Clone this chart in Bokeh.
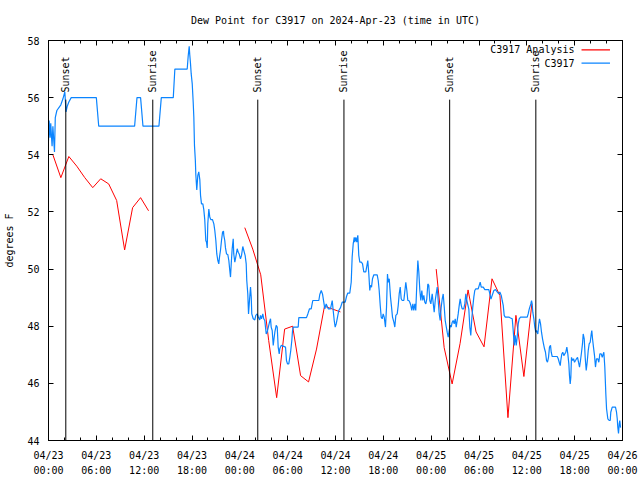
import math
from bokeh.plotting import figure
from bokeh.models import Range1d, LinearAxis, FixedTicker, Label
from bokeh.core.properties import value
from bokeh.embed import file_html
from bokeh.resources import INLINE

FONT = "DejaVu Sans Mono"
NAN = float("nan")

title_text = "Dew Point for C3917 on 2024-Apr-23 (time in UTC)"
y_label = "degrees F"

# hours since 2024-04-23 00:00 UTC
x_tick_hours = [0, 6, 12, 18, 24, 30, 36, 42, 48, 54, 60, 66, 72]
x_tick_labels = ["04/23\n00:00", "04/23\n06:00", "04/23\n12:00", "04/23\n18:00",
                 "04/24\n00:00", "04/24\n06:00", "04/24\n12:00", "04/24\n18:00",
                 "04/25\n00:00", "04/25\n06:00", "04/25\n12:00", "04/25\n18:00",
                 "04/26\n00:00"]
x_minor_hours = list(range(0, 73, 2))
y_ticks = [44, 46, 48, 50, 52, 54, 56, 58]

sun_hours = [2.17, 13.08, 26.25, 37.06, 50.32, 61.13]
sun_labels = ["Sunset", "Sunrise", "Sunset", "Sunrise", "Sunset", "Sunrise"]

legend_names = ["C3917 Analysis", "C3917"]

# C3917 Analysis (hourly model analysis, with gaps)
analysis_hours = [0.55, 1.55, 2.55, 3.55, 4.55, 5.55, 6.55, 7.55, 8.55, 9.55, 10.55, 11.55, 12.55,
                  NAN,
                  24.62, 25.62, 26.62, 27.62, 28.62, 29.62, 30.62, 31.62, 32.62, 33.62, 34.62, 35.62, 36.62,
                  NAN,
                  48.63, 49.63, 50.63, 51.63, 52.63, 53.63, 54.63, 55.63, 56.63, 57.63, 58.63, 59.63, 60.63]
analysis_vals = [54.0, 53.2, 53.94, 53.6, 53.2, 52.85, 53.16, 52.98, 52.4, 50.67, 52.15, 52.5, 52.04,
                 NAN,
                 51.45, 50.7, 49.8, 47.5, 45.5, 47.9, 48.0, 46.27, 46.05, 47.2, 48.7, 48.6, 48.5,
                 NAN,
                 50.0, 47.25, 45.98, 47.4, 49.27, 47.8, 47.28, 49.66, 49.07, 44.8, 48.38, 46.24, 48.78]

# C3917 observations
obs_hours = [0.0, 0.08, 0.2, 0.28, 0.45, 0.55, 0.75, 0.85, 1.05, 1.55, 1.8, 2.05, 2.2, 2.35, 2.55, 2.85,
             6.0, 6.3, 10.8, 11.1, 11.55, 11.85, 13.85, 14.15, 15.65, 15.85, 17.4, 17.52, 17.65, 17.72,
             17.81, 17.9, 18.03, 18.15, 18.23, 18.31, 18.42, 18.48, 18.6, 18.73, 18.85, 18.98, 19.07,
             19.19, 19.36, 19.48, 19.6, 19.73, 19.82, 19.91, 19.98, 20.11, 20.23, 20.36, 20.57, 20.74,
             20.86, 20.99, 21.11, 21.24, 21.36, 21.45, 21.57, 21.7, 21.83, 21.95, 21.99, 22.11, 22.2,
             22.33, 22.49, 22.62, 22.74, 22.83, 22.92, 23.04, 23.17, 23.24, 23.37, 23.49, 23.67, 23.8,
             23.92, 24.08, 24.21, 24.37, 24.5, 24.67, 24.8, 24.87, 25.0, 25.09, 25.21, 25.34, 25.43,
             25.5, 25.68, 25.88, 26.0, 26.18, 26.3, 26.5, 26.59, 26.72, 26.88, 27.0, 27.13, 27.31,
             27.43, 27.72, 27.85, 27.93, 28.06, 28.19, 28.26, 28.39, 28.56, 28.69, 28.81, 28.94, 29.01,
             29.19, 29.73, 29.85, 29.98, 30.14, 30.27, 30.39, 30.52, 30.61, 30.7, 31.32, 31.4, 32.36,
             32.53, 32.74, 32.95, 33.15, 33.91, 34.03, 34.21, 34.37, 34.53, 34.66, 34.83, 35.09, 35.37,
             35.59, 35.71, 35.84, 35.96, 36.09, 36.21, 36.41, 36.63, 36.84, 37.22, 37.38, 37.54, 37.79,
             37.97, 38.09, 38.22, 38.35, 38.42, 38.55, 38.67, 38.8, 38.92, 39.05, 39.26, 39.39, 39.55,
             39.8, 39.98, 40.05, 40.18, 40.3, 40.39, 40.52, 40.64, 40.81, 41.23, 41.36, 41.48, 41.61,
             41.73, 41.86, 41.98, 42.11, 42.27, 42.4, 42.52, 42.61, 42.74, 42.9, 43.03, 43.15, 43.32,
             43.44, 43.57, 43.74, 43.87, 43.99, 44.12, 44.24, 44.37, 44.57, 44.69, 44.82, 44.95, 45.07,
             45.2, 45.32, 45.45, 45.57, 45.7, 45.82, 45.95, 46.07, 46.2, 46.33, 46.45, 46.58, 46.7,
             46.83, 46.95, 47.08, 47.2, 47.33, 47.45, 47.58, 47.7, 47.83, 47.96, 48.13, 48.38, 48.51,
             48.63, 48.76, 48.88, 49.01, 49.13, 49.26, 49.39, 49.51, 49.64, 49.76, 50.01, 50.14, 50.26,
             50.39, 50.51, 50.64, 50.76, 50.89, 51.02, 51.14, 51.39, 51.52, 51.64, 51.77, 51.89, 52.09,
             52.22, 52.35, 52.47, 52.72, 52.85, 52.97, 53.1, 53.22, 53.35, 53.47, 53.6, 53.9, 54.03,
             54.15, 54.28, 54.53, 54.73, 55.23, 55.36, 55.5, 55.86, 56.07, 56.28, 56.49, 56.61, 56.79,
             56.91, 57.04, 57.16, 57.29, 57.74, 57.95, 58.17, 58.29, 58.42, 58.54, 58.67, 58.79, 58.92,
             59.04, 59.21, 60.05, 60.17, 60.3, 60.5, 60.59, 60.67, 60.75, 60.88, 61.0, 61.13, 61.21,
             61.38, 61.5, 61.59, 61.72, 61.84, 61.97, 62.09, 62.22, 62.34, 62.47, 62.59, 62.72, 62.84,
             62.97, 63.06, 63.18, 63.81, 63.94, 64.06, 64.19, 64.26, 64.39, 64.51, 64.64, 64.76, 64.89,
             65.02, 65.14, 65.27, 65.35, 65.44, 65.52, 65.6, 65.73, 65.86, 65.98, 66.11, 66.23, 66.36,
             66.48, 66.61, 66.73, 66.86, 66.98, 67.07, 67.2, 67.32, 67.45, 67.57, 67.7, 67.82, 67.95,
             68.08, 68.15, 68.24, 68.36, 68.49, 68.61, 68.74, 68.9, 69.03, 69.16, 69.33, 69.46, 69.58,
             69.66, 69.78, 69.91, 70.0, 70.16, 70.33, 70.46, 70.53, 70.71, 71.12, 71.25, 71.34, 71.41,
             71.5, 71.59, 71.66, 71.75]
obs_vals = [54.5, 55.2, 54.6, 55.1, 54.3, 55.0, 54.1, 55.3, 55.55, 55.75, 55.95, 56.2, 55.5, 55.7, 55.85, 56.0,
            56.0, 55.0, 55.0, 56.0, 56.0, 55.0, 55.0, 56.0, 56.0, 57.0, 57.0, 57.45, 57.8, 57.5,
            57.2, 56.83, 56.48, 55.84, 55.32, 54.33, 53.8, 53.3, 52.77, 53.28, 53.4, 53.13, 52.58,
            52.28, 52.28, 52.08, 51.73, 51.0, 50.94, 50.74, 51.58, 52.1, 51.82, 51.73, 51.73, 51.58,
            51.35, 51.0, 50.53, 50.3, 50.18, 50.42, 50.65, 51.0, 51.29, 51.33, 51.18, 51.0, 50.74,
            50.53, 50.51, 50.3, 49.95, 49.72, 50.18, 50.71, 51.06, 50.53, 50.24, 50.42, 50.71, 50.59,
            50.53, 50.36, 50.47, 50.79, 50.65, 50.47, 50.18, 49.6, 49.13, 48.43, 48.9, 49.37, 49.02,
            48.43, 48.26, 48.22, 48.38, 48.43, 48.33, 48.22, 48.38, 48.26, 48.43, 48.26, 48.2, 47.73,
            47.79, 48.14, 48.26, 47.97, 47.85, 47.33, 47.5, 47.79, 48.03, 47.97, 47.27, 47.03, 47.21,
            47.33, 47.27, 46.8, 46.68, 46.68, 46.91, 47.15, 47.5, 47.85, 47.97, 47.97, 48.3, 48.3,
            48.43, 48.61, 48.61, 48.9, 48.9, 49.11, 49.25, 49.13, 48.84, 48.61, 48.78, 48.61, 48.61,
            48.9, 48.55, 48.2, 47.97, 48.08, 48.26, 48.55, 48.65, 48.84, 48.84, 49.04, 49.16, 49.16,
            49.54, 50.42, 50.88, 51.11, 50.94, 51.11, 50.94, 51.18, 50.48, 50.24, 50.24, 50.18, 49.9,
            49.9, 50.18, 50.3, 49.83, 49.25, 49.43, 49.37, 49.66, 49.8, 49.8, 49.6, 49.25, 48.73,
            48.32, 48.26, 48.43, 48.32, 47.97, 48.67, 49.83, 49.54, 49.66, 49.02, 48.67, 48.32, 48.14,
            47.97, 48.38, 48.43, 48.73, 49.13, 49.37, 48.96, 48.9, 48.9, 49.2, 49.54, 49.25, 48.9,
            48.9, 48.84, 48.73, 48.55, 48.78, 48.55, 48.78, 48.55, 49.48, 50.3, 49.9, 49.25, 48.9,
            49.25, 48.9, 49.08, 48.84, 48.78, 48.96, 49.48, 49.43, 48.9, 48.78, 49.13, 48.49, 48.9,
            49.13, 49.37, 48.9, 48.43, 48.2, 48.67, 48.96, 49.13, 48.67, 48.2, 47.79, 47.62, 47.85,
            48.03, 47.97, 48.14, 48.2, 48.08, 48.26, 47.97, 48.43, 48.73, 48.96, 48.73, 48.61, 48.61,
            48.78, 49.13, 48.9, 48.61, 47.97, 47.68, 48.26, 48.67, 49.02, 49.25, 49.31, 49.31, 49.43,
            49.54, 49.37, 49.37, 49.28, 49.28, 49.13, 48.95, 49.25, 49.28, 49.2, 49.13, 49.2, 49.08,
            48.9, 48.73, 48.38, 48.32, 48.32, 48.29, 48.26, 47.85, 47.33, 47.68, 47.33, 47.62, 48.08,
            48.26, 48.32, 48.32, 48.43, 48.6, 48.78, 48.9, 48.78, 48.49, 48.26, 47.97, 47.79, 47.85,
            47.73, 48.08, 48.26, 48.08, 47.79, 47.56, 47.38, 47.21, 47.09, 46.8, 46.74, 46.91, 47.27,
            47.33, 47.09, 46.94, 46.94, 46.86, 46.74, 46.62, 46.8, 47.03, 47.09, 46.97, 47.03, 47.09,
            47.27, 47.03, 46.68, 46.27, 45.98, 46.22, 46.91, 46.8, 46.86, 46.74, 46.8, 46.86, 46.91,
            46.74, 46.57, 46.8, 47.09, 47.38, 47.73, 47.56, 46.91, 46.45, 46.74, 47.15, 47.38, 47.44,
            47.73, 47.85, 47.56, 47.27, 46.97, 46.57, 46.86, 46.86, 46.74, 47.03, 47.03, 46.91, 47.03,
            47.09, 46.57, 45.63, 45.11, 44.76, 44.7, 44.7, 44.99, 45.17, 45.17, 44.99, 44.76, 44.47,
            44.25, 44.58, 44.7, 44.45]

RED = "#ff0000"
BLUE = "#0a84ff"

p = figure(width=640, height=480, x_range=Range1d(0, 72), y_range=Range1d(44, 58),
           output_backend="svg", toolbar_location=None,
           min_border_left=48, min_border_right=18, min_border_top=40, min_border_bottom=40)
p.xgrid.visible = False
p.ygrid.visible = False
p.outline_line_color = "black"
p.outline_line_width = 1
p.background_fill_color = "white"
p.border_fill_color = "white"

p.title.text = title_text
p.title.align = "center"
p.title.vertical_align = "top"
p.title.text_font = FONT
p.title.text_font_size = "10px"
p.title.text_font_style = "normal"
p.title.text_color = "black"
p.title.standoff = 26


def style_axis(ax, ticks, minor, labels=None):
    ax.ticker = FixedTicker(ticks=ticks, minor_ticks=minor)
    ax.major_tick_in = 5
    ax.major_tick_out = 0
    ax.minor_tick_in = 3
    ax.minor_tick_out = 0
    ax.axis_line_color = "black"
    ax.major_tick_line_color = "black"
    ax.minor_tick_line_color = "black"
    ax.major_label_text_font = FONT
    ax.major_label_text_font_size = "10px"
    ax.major_label_text_color = "black"
    if labels is not None:
        ax.major_label_overrides = dict(zip(ticks, labels))


xax = p.xaxis[0]
style_axis(xax, x_tick_hours, x_minor_hours, x_tick_labels)
xax.major_label_standoff = 9
xax.major_label_text_line_height = 1.4

yax = p.yaxis[0]
style_axis(yax, y_ticks, [], [str(t) for t in y_ticks])
yax.major_label_standoff = 9
yax.axis_label = y_label
yax.axis_label_text_font = FONT
yax.axis_label_text_font_size = "10px"
yax.axis_label_text_font_style = "normal"
yax.axis_label_text_color = "black"
yax.axis_label_standoff = 9

top = LinearAxis()
style_axis(top, x_tick_hours, x_minor_hours, [""] * len(x_tick_hours))
top.major_label_standoff = 0
p.add_layout(top, "above")

right = LinearAxis()
style_axis(right, y_ticks, [], [""] * len(y_ticks))
right.major_label_standoff = 0
p.add_layout(right, "right")

# data lines
p.line(analysis_hours, analysis_vals, line_color=RED, line_width=1)
p.line(obs_hours, obs_vals, line_color=BLUE, line_width=1.2)

# sunrise / sunset markers
p.segment(x0=sun_hours, y0=[44] * len(sun_hours), x1=sun_hours, y1=[55.93] * len(sun_hours),
          line_color="black", line_width=1)
p.text(x=sun_hours, y=[56.18] * len(sun_hours), text=sun_labels, angle=math.pi / 2,
       text_align="left", text_baseline="middle", text_font=value(FONT),
       text_font_size="10px", text_color="black")

# legend (text on the left, key line on the right)
legend_y = [57.675, 57.21]
legend_colors = [RED, BLUE]
for name, yy, col in zip(legend_names, legend_y, legend_colors):
    p.add_layout(Label(x=65.98, y=yy, text=name, text_align="right", text_baseline="middle",
                       text_font=FONT, text_font_size="10px", text_color="black"))
    p.segment(x0=[66.86], y0=[yy], x1=[70.43], y1=[yy], line_color=col, line_width=1.2)

open("out.html", "w").write(file_html(p, INLINE))
